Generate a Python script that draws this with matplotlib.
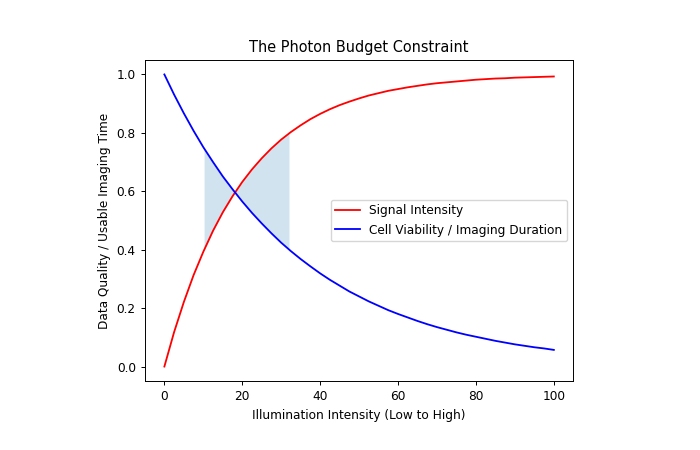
import numpy as np
import matplotlib
matplotlib.use("Agg")
import matplotlib.pyplot as plt

# illumination intensity samples
intensity = [0, 2.5, 5, 7.5, 10, 12.5, 15, 17.5, 20, 22.5, 25, 27.5, 30, 32.5, 35,
             37.5, 40, 42.5, 45, 47.5, 50, 52.5, 55, 57.5, 60, 62.5, 65, 67.5, 70,
             72.5, 75, 77.5, 80, 82.5, 85, 87.5, 90, 92.5, 95, 97.5, 100]

signal = [0.000, 0.118, 0.221, 0.313, 0.393, 0.465, 0.528, 0.583, 0.632, 0.675,
          0.713, 0.747, 0.777, 0.803, 0.826, 0.847, 0.865, 0.881, 0.895, 0.907,
          0.918, 0.928, 0.936, 0.944, 0.950, 0.956, 0.961, 0.966, 0.970, 0.973,
          0.976, 0.979, 0.982, 0.984, 0.986, 0.987, 0.989, 0.990, 0.991, 0.992, 0.993]

viability = [1.000, 0.931, 0.867, 0.807, 0.751, 0.700, 0.651, 0.607, 0.565, 0.526,
             0.490, 0.456, 0.424, 0.395, 0.368, 0.343, 0.319, 0.297, 0.277, 0.257,
             0.240, 0.223, 0.208, 0.193, 0.180, 0.168, 0.156, 0.145, 0.135, 0.126,
             0.117, 0.109, 0.102, 0.095, 0.088, 0.082, 0.076, 0.071, 0.066, 0.062, 0.057]

# sweet spot band where both curves stay above ~0.4
band_lo, band_hi = 10.2, 32.0

# the reference looks like a slightly shrunk default figure
s = 0.87
plt.rcParams.update({
    'font.size': 10 * s,
    'axes.titlesize': 12 * s,
    'lines.linewidth': 1.5 * s,
    'axes.linewidth': 0.8 * s,
    'xtick.major.size': 3.5 * s,
    'ytick.major.size': 3.5 * s,
    'xtick.major.width': 0.8 * s,
    'ytick.major.width': 0.8 * s,
    'legend.fontsize': 10 * s,
})

fig = plt.figure(figsize=(7, 4.5), dpi=100)
ax = fig.add_axes([0.207, 0.153, 0.612, 0.714])

ax.plot(intensity, signal, color='red', label='Signal Intensity')
ax.plot(intensity, viability, color='blue', label='Cell Viability / Imaging Duration')

xs = [band_lo] + [v for v in intensity if band_lo < v < band_hi] + [band_hi]
ax.fill_between(xs, np.interp(xs, intensity, signal), np.interp(xs, intensity, viability),
                color='C0', alpha=0.2, linewidth=0)

ax.set_title('The Photon Budget Constraint')
ax.set_xlabel('Illumination Intensity (Low to High)')
ax.set_ylabel('Data Quality / Usable Imaging Time')
ax.legend(loc='center right')

fig.savefig('out.png')
